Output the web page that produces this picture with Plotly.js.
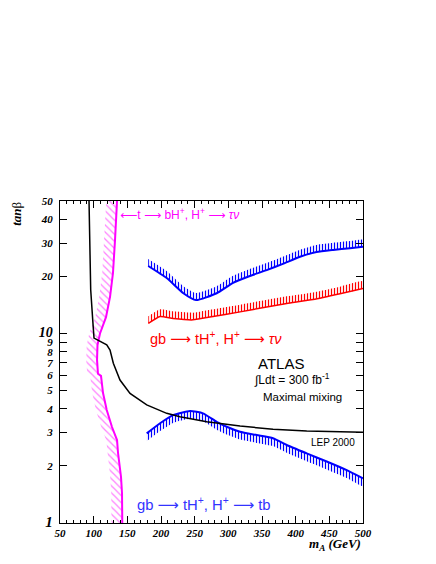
<!DOCTYPE html>
<html>
<head>
<meta charset="utf-8">
<script src="https://cdn.plot.ly/plotly-3.0.1.min.js"></script>
<style>
  html, body { margin: 0; padding: 0; background: #fff; }
</style>
</head>
<body>
<div id="chartDiv" style="width:436px;height:564px;"></div>
<script>
// LEP 2000 excluded region
var lepMass = [93.1, 94.6, 95.6, 98.6, 100.5, 119.4, 124.3, 129.2, 133.2, 139.1, 154, 178.8, 208.5, 228.2, 267.9, 317.4, 366.4, 416.4, 500];
var lepTanb = [50, 25, 17, 11.8, 9.46, 8.7, 8.18, 6.96, 6.42, 5.68, 4.83, 4.2, 3.79, 3.64, 3.42, 3.25, 3.12, 3.06, 3.01];

// t -> bH+, H+ -> tau nu
var topMass = [134.7, 133.5, 131.7, 128.7, 124.3, 118.3, 109.4, 105.7, 105.0, 106.4, 110.9, 113.9, 119.4, 127.2, 134.7, 136.2, 140.6, 142.1, 142.5];
var topTanb = [50, 40, 31.1, 20.9, 15.6, 12.2, 10, 8.7, 7.25, 6.13, 5.97, 4.85, 3.95, 3.21, 2.74, 2.34, 1.75, 1.44, 1];

// gb -> tH+, H+ -> tb (high tan beta)
var tbHighMass = [181, 208.4, 233.2, 252, 282.7, 307, 332, 357, 381, 406.5, 431, 455.6, 480.8, 500];
var tbHighTanb = [22.7, 19.6, 16.3, 15.0, 16.3, 18.5, 20.1, 21.6, 23.3, 25.4, 26.9, 27.6, 28.2, 28.7];

// gb -> tH+, H+ -> tb (low tan beta)
var tbLowMass = [178.8, 198.6, 217.9, 243.1, 262.4, 282.7, 297.6, 317.4, 342.2, 366.4, 386.7, 416.4, 446.1, 475.8, 500];
var tbLowTanb = [2.97, 3.36, 3.71, 3.90, 3.79, 3.42, 3.22, 3.03, 2.91, 2.80, 2.58, 2.33, 2.11, 1.90, 1.72];

// gb -> tH+, H+ -> tau nu
var tauMass = [181.2, 198.6, 217.9, 247.5, 277.3, 317.4, 357, 386.7, 425.8, 465.9, 500];
var tauTanb = [11.3, 12.3, 12.0, 11.8, 12.3, 13.0, 13.8, 14.4, 15.1, 16.2, 17.3];

var yTickVals = [1, 2, 3, 4, 5, 6, 7, 8, 9, 10, 20, 30, 40, 50];
var yTickText = ['<span style="font-size:15px">1</span>', '2', '3', '4', '5', '6', '7', '8', '9',
                 '<span style="font-size:14px">10</span>', '20', '30', '40', '50'];

// hatched band on one side of a curve
function bandY(xs, ys, factor, color, shape, size, solidity)
{
  var px = xs.concat(xs.slice().reverse());
  var py = ys.concat(ys.slice().reverse().map(function(v){ return v * factor; }));
  return {
    x: px, y: py, type: 'scatter', mode: 'lines', fill: 'toself',
    line: {width: 0, color: color, shape: 'spline', smoothing: 0.5},
    fillcolor: 'rgba(0,0,0,0)',
    fillpattern: {shape: shape, fgcolor: color, bgcolor: 'rgba(0,0,0,0)', size: size, solidity: solidity},
    hoverinfo: 'skip'
  };
}

function bandX(xs, ys, shift, color, shape, size, solidity)
{
  var px = xs.concat(xs.slice().reverse().map(function(v){ return v - shift; }));
  var py = ys.concat(ys.slice().reverse());
  return {
    x: px, y: py, type: 'scatter', mode: 'lines', fill: 'toself',
    line: {width: 0, color: color},
    fillcolor: 'rgba(0,0,0,0)',
    fillpattern: {shape: shape, fgcolor: color, bgcolor: 'rgba(0,0,0,0)', size: size, solidity: solidity},
    hoverinfo: 'skip'
  };
}

function curve(xs, ys, color, width, smooth)
{
  var ln = {color: color, width: width};
  if(smooth)
  {
    ln.shape = 'spline';
    ln.smoothing = 0.5;
  }
  return {x: xs, y: ys, type: 'scatter', mode: 'lines', line: ln, hoverinfo: 'skip'};
}

var data = [
  bandX(topMass, topTanb, 16, '#ff80ff', '\\', 5, 0.25),
  bandY(tbHighMass, tbHighTanb, 1.09, '#0000ff', '|', 3, 0.4),
  bandY(tauMass, tauTanb, 1.09, '#ff0000', '|', 3, 0.4),
  bandY(tbLowMass, tbLowTanb, 1 / 1.10, '#0000ff', '|', 3, 0.4),
  curve(topMass, topTanb, '#ff00ff', 2, false),
  curve(tbHighMass, tbHighTanb, '#0000ff', 2, true),
  curve(tauMass, tauTanb, '#ff0000', 1.5, true),
  curve(tbLowMass, tbLowTanb, '#0000ff', 2, true),
  curve(lepMass, lepTanb, '#000000', 1.5, false)
];

var tickFont = {family: 'Liberation Serif', size: 11, color: '#000', weight: 'bold', style: 'italic'};
var textFont = 'Liberation Sans';
var arrow = '<span style="font-family:DejaVu Sans">\u27f6</span>';

var layout = {
  width: 436,
  height: 564,
  margin: {l: 60, r: 73, t: 201, b: 41},
  paper_bgcolor: '#fff',
  plot_bgcolor: '#fff',
  showlegend: false,
  xaxis: {
    range: [50, 500],
    tickmode: 'linear', tick0: 0, dtick: 50,
    ticks: 'inside', ticklen: 7, tickcolor: '#000', tickwidth: 1,
    showline: true, linecolor: '#000', linewidth: 1, mirror: 'ticks',
    showgrid: false, zeroline: false,
    tickfont: tickFont,
    minor: {dtick: 10, ticks: 'inside', ticklen: 3, tickcolor: '#000', showgrid: false}
  },
  yaxis: {
    type: 'log',
    range: [0, Math.log10(50)],
    tickmode: 'array', tickvals: yTickVals, ticktext: yTickText,
    ticks: 'inside', ticklen: 7, tickcolor: '#000', tickwidth: 1,
    showline: true, linecolor: '#000', linewidth: 1, mirror: 'ticks',
    showgrid: false, zeroline: false,
    tickfont: tickFont,
    ticklabelstandoff: 4
  },
  annotations: [
    {xref: 'x', yref: 'y', x: 136.2, y: 1.631, xanchor: 'left', yanchor: 'middle', showarrow: false,
     text: '<span style="font-family:DejaVu Sans">\u27f5</span>t ' + arrow + ' bH<sup>+</sup>, H<sup>+</sup> ' + arrow + ' <i>\u03c4\u03bd</i>',
     font: {family: textFont, size: 12, color: '#ff00ff'}},
    {xref: 'x', yref: 'y', x: 180.7, y: 0.976, xanchor: 'left', yanchor: 'middle', showarrow: false,
     text: 'gb ' + arrow + ' tH<sup>+</sup>, H<sup>+</sup> ' + arrow + ' <i>\u03c4\u03bd</i>',
     font: {family: textFont, size: 14.5, color: '#ff0000'}},
    {xref: 'x', yref: 'y', x: 378, y: 0.844, xanchor: 'center', yanchor: 'middle', showarrow: false,
     text: 'ATLAS', font: {family: textFont, size: 15, color: '#000'}},
    {xref: 'x', yref: 'y', x: 394.6, y: 0.760, xanchor: 'center', yanchor: 'middle', showarrow: false,
     text: '\u222bLdt = 300 fb<sup>-1</sup>', font: {family: textFont, size: 12, color: '#000'}},
    {xref: 'x', yref: 'y', x: 409.5, y: 0.665, xanchor: 'center', yanchor: 'middle', showarrow: false,
     text: 'Maximal mixing', font: {family: textFont, size: 11.5, color: '#000'}},
    {xref: 'x', yref: 'y', x: 456, y: 0.427, xanchor: 'center', yanchor: 'middle', showarrow: false,
     text: 'LEP 2000', font: {family: textFont, size: 10, color: '#000'}},
    {xref: 'x', yref: 'y', x: 161.4, y: 0.100, xanchor: 'left', yanchor: 'middle', showarrow: false,
     text: 'gb ' + arrow + ' tH<sup>+</sup>, H<sup>+</sup> ' + arrow + ' tb',
     font: {family: textFont, size: 14.8, color: '#3333ff'}},
    {xref: 'paper', yref: 'paper', x: 1.0, y: -0.068, xanchor: 'right', yanchor: 'middle', showarrow: false,
     text: 'm<sub>A</sub> (GeV)',
     font: {family: 'Liberation Serif', size: 13, color: '#000', weight: 'bold', style: 'italic'}},
    {xref: 'paper', yref: 'paper', x: -0.142, y: 0.960, xanchor: 'center', yanchor: 'middle', showarrow: false,
     textangle: -90,
     text: 'tan<span style="font-style:normal;font-weight:normal">\u03b2</span>',
     font: {family: 'Liberation Serif', size: 13, color: '#000', weight: 'bold', style: 'italic'}}
  ]
};

Plotly.newPlot('chartDiv', data, layout, {staticPlot: true});
</script>
</body>
</html>
